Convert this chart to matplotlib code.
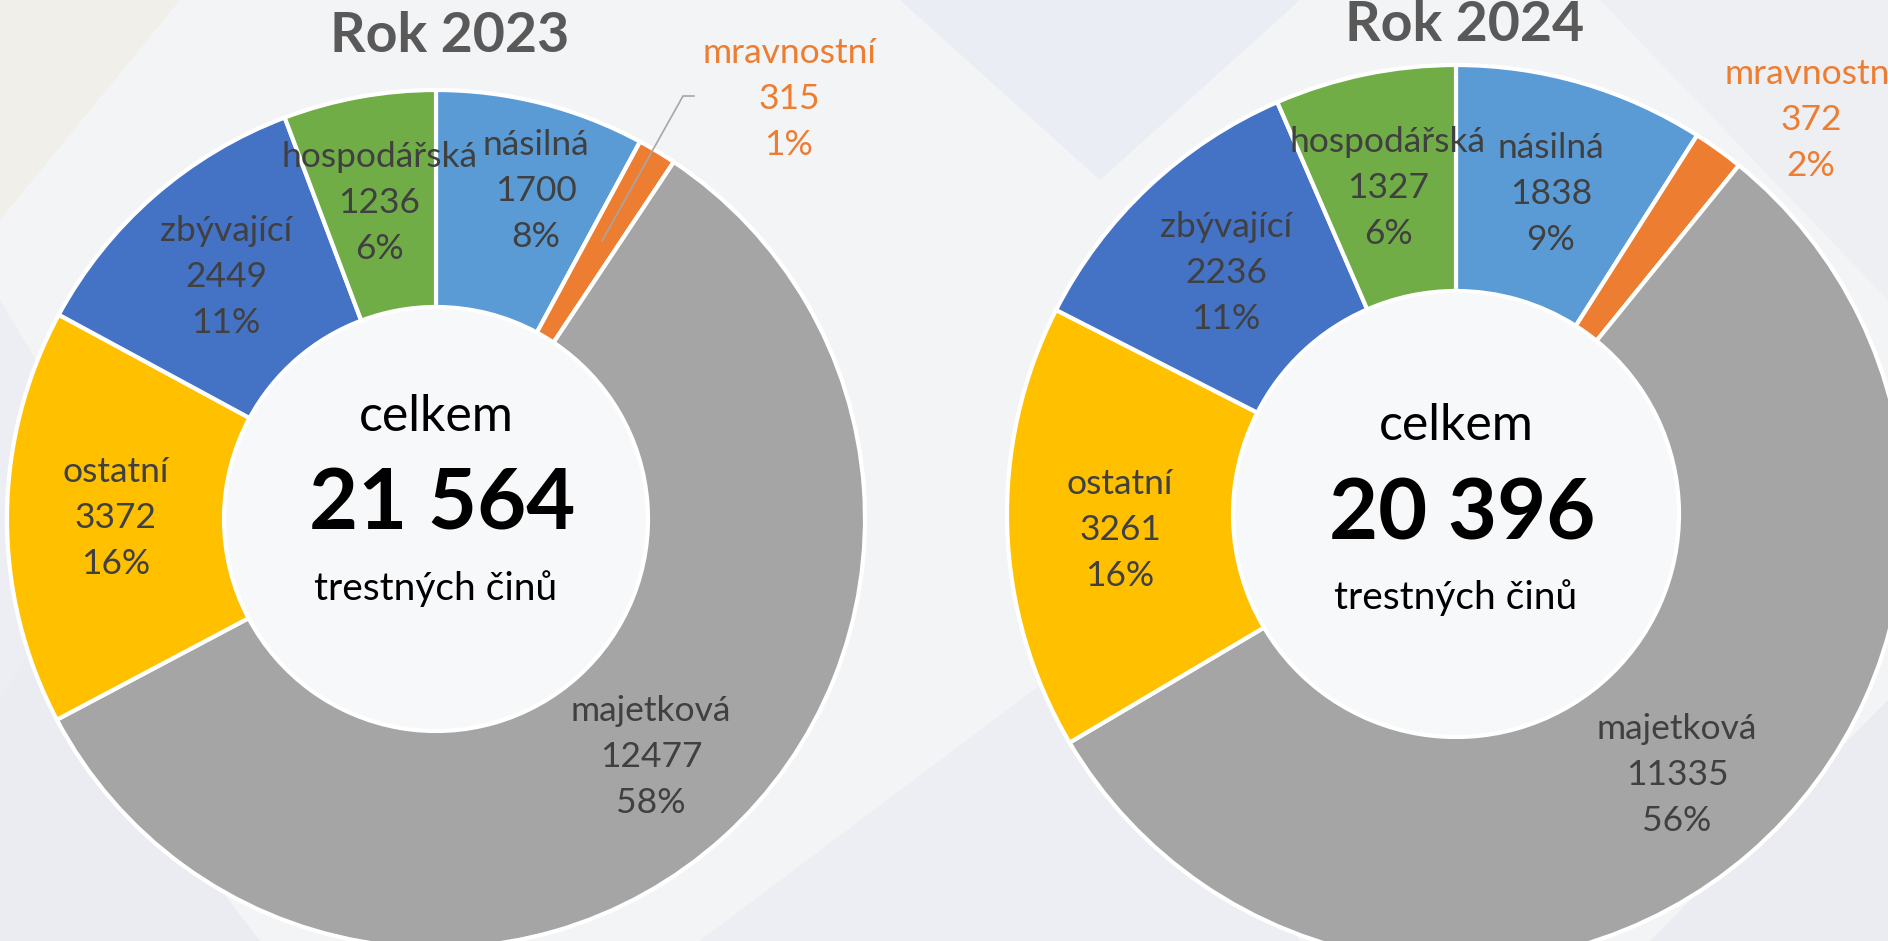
import matplotlib
matplotlib.use("Agg")
import matplotlib.pyplot as plt
from matplotlib.patches import Circle, Polygon

plt.rcParams['font.family'] = ['Lato', 'Open Sans', 'DejaVu Sans']

# data, clockwise from 12 o'clock
categories = ['násilná', 'mravnostní', 'majetková', 'ostatní', 'zbývající', 'hospodářská']
colors = ['#5B9BD5', '#ED7D31', '#A5A5A5', '#FFC000', '#4472C4', '#70AD47']
values_2023 = [1700, 315, 12477, 3372, 2449, 1236]
values_2024 = [1838, 372, 11335, 3261, 2236, 1327]
pct_2023 = [8, 1, 58, 16, 11, 6]
pct_2024 = [9, 2, 56, 16, 11, 6]
total_2023 = '21 564'
total_2024 = '20 396'

W, H = 1888, 941
fig = plt.figure(figsize=(W / 100, H / 100), dpi=100)
fig.patch.set_facecolor('#F3F4F6')
ax = fig.add_axes([0, 0, 1, 1])
ax.set_facecolor('#F3F4F6')

# faint geometric background
bg = [
    ([(0, 941), (0, 600), (260, 941)], '#EAECF2'),
    ([(0, 0), (180, 0), (0, 220)], '#F0EFEA'),
    ([(700, 941), (1100, 640), (1300, 941)], '#ECEEF3'),
    ([(900, 0), (1300, 0), (1100, 180)], '#EAEDF3'),
    ([(1600, 0), (1888, 0), (1888, 300)], '#EEEFF3'),
    ([(1650, 941), (1888, 700), (1888, 941)], '#EAECF2'),
    ([(0, 300), (120, 500), (0, 700)], '#ECEEF3'),
]
for pts, c in bg:
    ax.add_patch(Polygon([(x, H - y) for x, y in pts], closed=True,
                         facecolor=c, edgecolor='none', zorder=0))


def donut(cx, cy, R, r, values, pct, total, title, title_pos, lab_pos,
          center_y, leader=None):
    ax.pie(values, colors=colors, startangle=90, counterclock=False,
           center=(cx, H - cy), radius=R, frame=True,
           wedgeprops=dict(width=R - r, edgecolor='white', linewidth=3))
    ax.add_patch(Circle((cx, H - cy), r - 1.5, facecolor='white', alpha=0.4,
                        edgecolor='none', zorder=3))
    ax.text(title_pos[0], H - title_pos[1], title, ha='center', va='center',
            fontsize=40, fontweight='bold', color='#595959', zorder=5)
    for i, name in enumerate(categories):
        col = '#ED7D31' if name == 'mravnostní' else '#404040'
        x, y = lab_pos[i]
        ax.text(x, H - y, f'{name}\n{values[i]}\n{pct[i]}%', ha='center',
                va='center', fontsize=25.5, color=col, linespacing=1.55, zorder=5)
    ax.text(cx, H - center_y[0], 'celkem', ha='center', va='center',
            fontsize=36, color='black', zorder=5)
    ax.text(cx + 6, H - center_y[1], total, ha='center', va='center',
            fontsize=61, fontweight='bold', color='black', zorder=5)
    ax.text(cx, H - center_y[2], 'trestných činů', ha='center', va='center',
            fontsize=28, color='black', zorder=5)
    if leader:
        ax.plot([p[0] for p in leader], [H - p[1] for p in leader],
                color='#A6A6A6', lw=1.2, zorder=4)


donut(436, 519, 429, 212, values_2023, pct_2023, total_2023, 'Rok 2023', (450, 36),
      [(536, 191), (789, 99), (651, 757), (116, 518), (226, 277), (379, 203)],
      (417, 505, 589), leader=[(694, 96), (683, 96), (602, 241)])
donut(1456, 514, 449, 223, values_2024, pct_2024, total_2024, 'Rok 2024', (1465, 25),
      [(1551, 194), (1811, 120), (1677, 775), (1120, 530), (1226, 273), (1388, 188)],
      (426, 515, 598))

ax.set_xlim(0, W)
ax.set_ylim(0, H)
ax.set_aspect('equal')
ax.axis('off')
fig.savefig('out.png', dpi=100, facecolor=fig.get_facecolor())
